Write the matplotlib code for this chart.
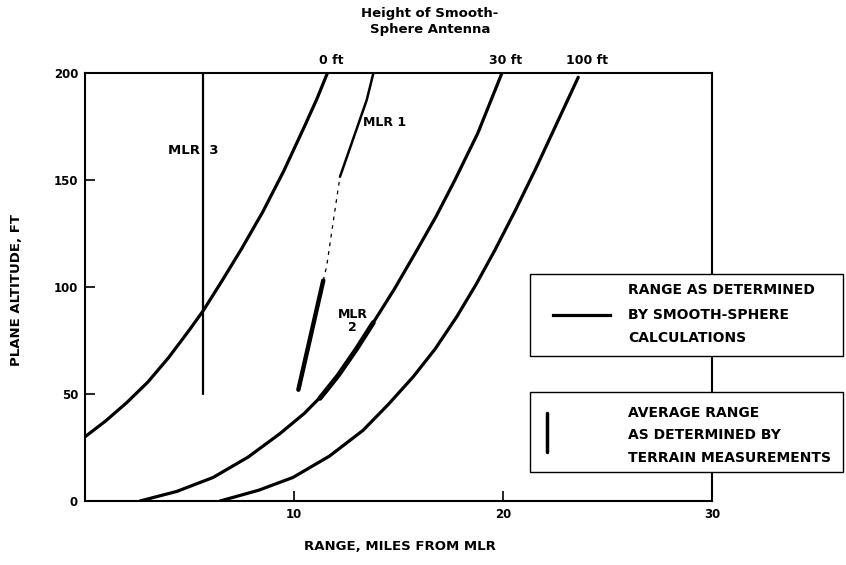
import matplotlib
matplotlib.use('Agg')
import matplotlib.pyplot as plt
from matplotlib.patches import Rectangle
from matplotlib.lines import Line2D

# smooth-sphere range curves (range in miles, plane altitude in ft)
h0_x = [0, 1, 2, 3, 4, 5, 5.66, 6.5, 7.5, 8.5, 9.5, 10.5, 11.1, 11.6]
h0_y = [30, 37.5, 46, 55.5, 67, 80, 89, 102, 118, 135, 154, 175, 188, 200]

h30_x = [2.63, 4.4, 6.13, 7.8, 9.33, 10.5, 11.56, 12.6, 13.64, 14.8, 15.87,
         16.8, 17.7, 18.8, 19.95]
h30_y = [0, 4.5, 11, 20.5, 31.5, 41, 51.5, 65, 81, 99, 117,
         133, 150, 172, 200]

h100_x = [6.46, 8.3, 9.95, 11.7, 13.3, 14.5, 15.7, 16.75, 17.78, 18.7, 19.6,
          20.6, 21.6, 22.6, 23.6]
h100_y = [0, 5, 11, 21, 33, 45, 58, 71, 86, 101, 117,
          136, 156, 177, 198]

curve_labels = ['0 ft', '30 ft', '100 ft']
curve_label_x = [11.8, 20.1, 24.0]

# terrain measurements
mlr3_x = [5.66, 5.66]
mlr3_y = [50, 200]

mlr1_low_x = [10.21, 11.40]
mlr1_low_y = [52, 103]
mlr1_mid_x = [11.40, 11.56, 11.96, 12.2]
mlr1_mid_y = [103, 109.5, 136, 151.5]
mlr1_top_x = [12.2, 13.48, 13.8]
mlr1_top_y = [151.5, 187.4, 200]

mlr2_x = [11.24, 12.1, 13.0, 13.79]
mlr2_y = [48, 58.5, 71.2, 83.3]

xticks = [10, 20, 30]
yticks = [0, 50, 100, 150, 200]

bold = dict(fontweight='bold', color='black', family='DejaVu Sans')

fig = plt.figure(figsize=(8.46, 5.65), dpi=100)
ax = fig.add_axes([85/846, 1-501/565, 627/846, 428/565])
ax.set_xlim(0, 30)
ax.set_ylim(0, 200)

kw = dict(color='black', solid_capstyle='round', solid_joinstyle='round')
ax.plot(h0_x, h0_y, lw=2.3, **kw)
ax.plot(h30_x, h30_y, lw=2.3, **kw)
ax.plot(h100_x, h100_y, lw=2.3, **kw)

ax.plot(mlr3_x, mlr3_y, lw=1.6, **kw)
ax.plot(mlr1_low_x, mlr1_low_y, lw=3.2, **kw)
ax.plot(mlr1_mid_x, mlr1_mid_y, lw=0.9, ls=(0, (3, 4)), color='black')
ax.plot(mlr1_top_x, mlr1_top_y, lw=1.8, **kw)
ax.plot(mlr2_x, mlr2_y, lw=3.6, **kw)

ax.text(5.2, 164, 'MLR  3', ha='center', va='center', fontsize=9.5, **bold)
ax.text(13.3, 177, 'MLR 1', ha='left', va='center', fontsize=9, **bold)
ax.text(12.8, 84, 'MLR\n2', ha='center', va='center', fontsize=9,
        linespacing=1.0, **bold)

for lab, xx in zip(curve_labels, curve_label_x):
    ax.text(xx, 206, lab, ha='center', va='center', fontsize=9, clip_on=False, **bold)

ax.set_xticks(xticks)
ax.set_xticklabels([str(t) for t in xticks], fontsize=8.5, fontweight='bold')
ax.set_yticks(yticks)
ax.set_yticklabels([str(t) for t in yticks], fontsize=8.5, fontweight='bold')
ax.tick_params(direction='in', length=7, width=1.2, pad=5)
for s in ax.spines.values():
    s.set_linewidth(1.5)

fig.text(430/846, 1-22/565, 'Height of Smooth-\nSphere Antenna', ha='center',
         va='center', fontsize=9.5, linespacing=1.3, **bold)
fig.text(17/846, 1-290/565, 'PLANE ALTITUDE, FT', rotation=90, ha='center',
         va='center', fontsize=9.5, **bold)
fig.text(400/846, 1-547/565, 'RANGE, MILES FROM MLR', ha='center', va='center',
         fontsize=9.5, **bold)

# legend boxes
fig.add_artist(Rectangle((530/846, 1-356/565), 313/846, 82/565, transform=fig.transFigure,
                         facecolor='white', edgecolor='black', lw=1.0))
fig.add_artist(Rectangle((530/846, 1-472/565), 313/846, 80/565, transform=fig.transFigure,
                         facecolor='white', edgecolor='black', lw=1.0))
fig.add_artist(Line2D([553/846, 610/846], [1-315/565, 1-315/565], transform=fig.transFigure,
                      color='black', lw=2.3))
fig.add_artist(Line2D([547/846, 547/846], [1-413/565, 1-452/565], transform=fig.transFigure,
                      color='black', lw=2.5, solid_capstyle='round'))
for txt, yy in [('RANGE AS DETERMINED', 290), ('BY SMOOTH-SPHERE', 315),
                ('CALCULATIONS', 338), ('AVERAGE RANGE', 413),
                ('AS DETERMINED BY', 435), ('TERRAIN MEASUREMENTS', 458)]:
    fig.text(628/846, 1-yy/565, txt, ha='left', va='center', fontsize=10, **bold)

fig.savefig('out.png', dpi=100)
